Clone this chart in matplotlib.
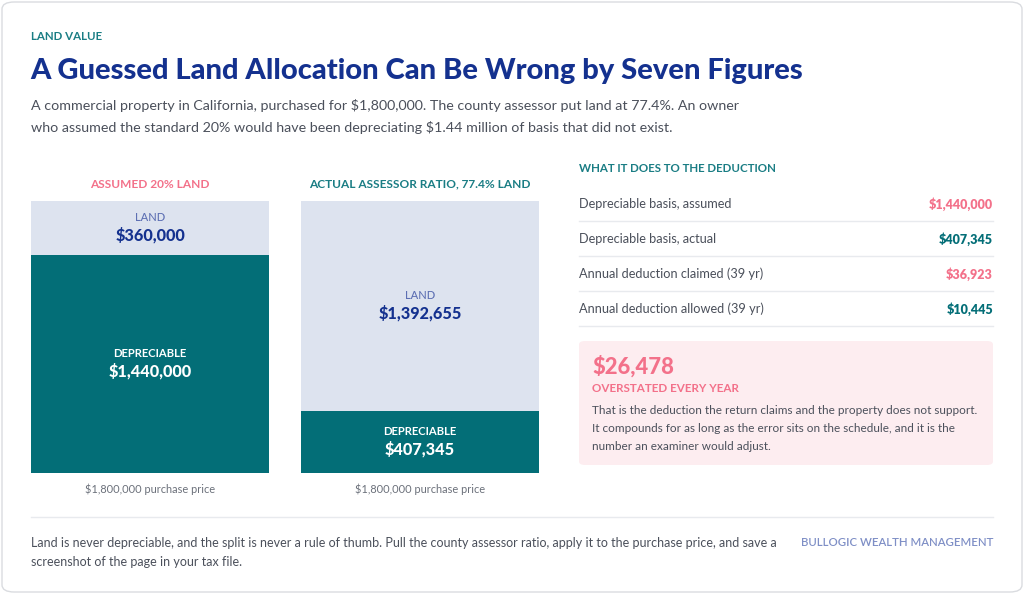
import matplotlib
matplotlib.use("Agg")
import matplotlib.pyplot as plt
from matplotlib.patches import FancyBboxPatch
from matplotlib.lines import Line2D

plt.rcParams["font.family"] = "Lato"

# data
scenarios = ["ASSUMED 20% LAND", "ACTUAL ASSESSOR RATIO, 77.4% LAND"]
land_vals = [360000, 1392655]
depr_vals = [1440000, 407345]
price = 1800000

row_labels = ["Depreciable basis, assumed", "Depreciable basis, actual",
              "Annual deduction claimed (39 yr)", "Annual deduction allowed (39 yr)"]
row_values = [1440000, 407345, 36923, 10445]
row_kind = ["assumed", "actual", "assumed", "actual"]
overstated = 26478

TEAL = "#036e77"
TEAL_TXT = "#1a7d84"
LAND_BG = "#dde3ef"
NAVY = "#14318f"
LAND_LBL = "#5d6fb3"
PINK = "#f3718a"
PINK_BG = "#fdedf0"
GRAY = "#4b505b"
LIGHT = "#e8eaee"

W, H = 1024, 594
fig = plt.figure(figsize=(W / 100, H / 100), dpi=100)
fig.patch.set_facecolor("white")


def fx(px):
    return px / W


def fy(py):
    return 1 - py / H


# card outline
fig.patches.append(FancyBboxPatch((fx(2), fy(592)), fx(1020), 590 / H,
                                  boxstyle="round,pad=0,rounding_size=0.012",
                                  transform=fig.transFigure, facecolor="none",
                                  edgecolor="#dadce0", linewidth=1.0, zorder=0))

# header
fig.text(fx(31), fy(37), "LAND VALUE", color=TEAL_TXT, fontsize=8.3, fontweight=700,
         va="center", ha="left")
fig.text(fx(30), fy(71), "A Guessed Land Allocation Can Be Wrong by Seven Figures",
         color=NAVY, fontsize=21, fontweight=900, va="center", ha="left")
fig.text(fx(31), fy(105), "A commercial property in California, purchased for $1,800,000. "
         "The county assessor put land at 77.4%. An owner", color=GRAY, fontsize=10.3,
         va="center", ha="left")
fig.text(fx(31), fy(128), "who assumed the standard 20% would have been depreciating "
         "$1.44 million of basis that did not exist.", color=GRAY, fontsize=10.3,
         va="center", ha="left")

# stacked bars
ax = fig.add_axes([fx(31), fy(473), fx(508), 272 / H])
x = [0, 1]
ax.bar(x, depr_vals, width=0.881, color=TEAL, edgecolor="none")
ax.bar(x, land_vals, bottom=depr_vals, width=0.881, color=LAND_BG, edgecolor="none")
ax.set_xlim(-0.4407, 1.4407)
ax.set_ylim(0, price)
ax.axis("off")

title_colors = [PINK, TEAL_TXT]
for i in x:
    ax.annotate(scenarios[i], (i, price), xytext=(0, 12), textcoords="offset points",
                ha="center", va="center", color=title_colors[i], fontsize=8.6,
                fontweight=700)
    ly = depr_vals[i] + land_vals[i] / 2
    ax.annotate("LAND", (i, ly), xytext=(0, 7.6), textcoords="offset points",
                ha="center", va="center", color=LAND_LBL, fontsize=8.0, fontweight=500)
    ax.annotate(f"${land_vals[i]:,}", (i, ly), xytext=(0, -4.7), textcoords="offset points",
                ha="center", va="center", color=NAVY, fontsize=11.7, fontweight=900)
    dy = depr_vals[i] / 2
    ax.annotate("DEPRECIABLE", (i, dy), xytext=(0, 7.6), textcoords="offset points",
                ha="center", va="center", color="white", fontsize=8.1, fontweight=700)
    ax.annotate(f"${depr_vals[i]:,}", (i, dy), xytext=(0, -4.7), textcoords="offset points",
                ha="center", va="center", color="white", fontsize=11.7, fontweight=900)
    ax.annotate(f"${price:,} purchase price", (i, 0), xytext=(0, -11.5),
                textcoords="offset points", ha="center", va="center", color="#6b707a",
                fontsize=7.9)

# right table
fig.text(fx(579), fy(168), "WHAT IT DOES TO THE DEDUCTION", color=TEAL_TXT, fontsize=8.3,
         fontweight=700, va="center", ha="left")
for k, (lab, val, kind) in enumerate(zip(row_labels, row_values, row_kind)):
    yc = 204 + 35 * k
    fig.text(fx(579), fy(yc), lab, color=GRAY, fontsize=9.2, va="center", ha="left")
    fig.text(fx(993), fy(yc), f"${val:,}", color=PINK if kind == "assumed" else TEAL,
             fontsize=9.0, fontweight=800, va="center", ha="right")
    fig.add_artist(Line2D([fx(579), fx(993)], [fy(yc + 17), fy(yc + 17)],
                          color=LIGHT, linewidth=1.0, transform=fig.transFigure))

# callout box
fig.patches.append(FancyBboxPatch((fx(579), fy(465)), fx(414), 124 / H,
                                  boxstyle="round,pad=0,rounding_size=0.006",
                                  transform=fig.transFigure, facecolor=PINK_BG,
                                  edgecolor="none", zorder=1))
fig.text(fx(592), fy(366), f"${overstated:,}", color=PINK, fontsize=15.8,
         fontweight=900, va="center", ha="left")
fig.text(fx(592), fy(388), "OVERSTATED EVERY YEAR", color=PINK, fontsize=8.4,
         fontweight=700, va="center", ha="left")
body = ["That is the deduction the return claims and the property does not support.",
        "It compounds for as long as the error sits on the schedule, and it is the",
        "number an examiner would adjust."]
for j, line in enumerate(body):
    fig.text(fx(592), fy(410 + 18 * j), line, color=GRAY, fontsize=8.5,
             va="center", ha="left")

# footer
fig.add_artist(Line2D([fx(31), fx(993)], [fy(517), fy(517)], color=LIGHT,
                      linewidth=1.0, transform=fig.transFigure))
fig.text(fx(31), fy(543), "Land is never depreciable, and the split is never a rule of thumb. "
         "Pull the county assessor ratio, apply it to the purchase price, and save a",
         color=GRAY, fontsize=9.0, va="center", ha="left")
fig.text(fx(31), fy(562), "screenshot of the page in your tax file.", color=GRAY,
         fontsize=9.0, va="center", ha="left")
fig.text(fx(993), fy(543), "BULLOGIC WEALTH MANAGEMENT", color="#7f8fc6", fontsize=8.2,
         fontweight=600, va="center", ha="right")

fig.savefig("out.png", dpi=100, facecolor="white")
